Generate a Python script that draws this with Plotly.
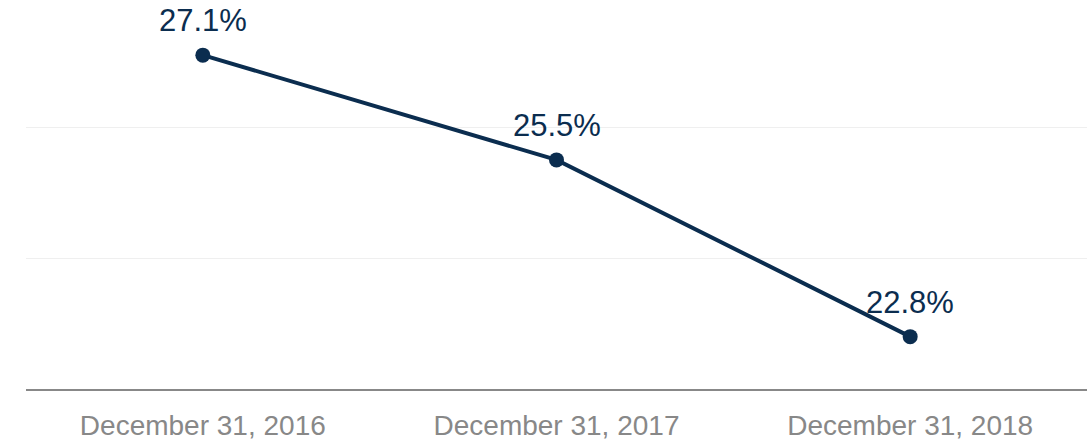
import plotly.graph_objects as go

categories = ["December 31, 2016", "December 31, 2017", "December 31, 2018"]
values = [27.1, 25.5, 22.8]
labels = ["27.1%", "25.5%", "22.8%"]

navy = "#0b2d4f"
font_family = "Liberation Sans, Arial, sans-serif"

fig = go.Figure(
    go.Scatter(
        x=categories,
        y=values,
        mode="lines+markers",
        line=dict(color=navy, width=4),
        marker=dict(color=navy, size=15),
        hoverinfo="skip",
        cliponaxis=False,
    )
)

for c, v, t in zip(categories, values, labels):
    fig.add_annotation(
        x=c, y=v, text=t, showarrow=False,
        xanchor="center", yanchor="bottom", yshift=15,
        font=dict(family=font_family, size=31, color=navy),
    )

fig.update_layout(
    width=1088,
    height=442,
    margin=dict(l=26, r=1, t=8, b=45),
    paper_bgcolor="white",
    plot_bgcolor="white",
    showlegend=False,
    hovermode=False,
    xaxis=dict(
        type="category",
        range=[-0.5, 2.5],
        showgrid=False,
        showline=True,
        linecolor="#888888",
        linewidth=2,
        ticks="",
        ticklabelstandoff=10,
        tickfont=dict(family=font_family, size=28, color="#888888"),
    ),
    yaxis=dict(
        range=[22, 27.82],
        dtick=2,
        tick0=22,
        showgrid=True,
        gridcolor="#efefef",
        gridwidth=1,
        showticklabels=False,
        zeroline=False,
        ticks="",
    ),
)

fig.write_html(
    "out.html",
    config={"displayModeBar": False},
    post_script="document.body.style.margin='0';document.body.style.overflow='hidden';",
)
